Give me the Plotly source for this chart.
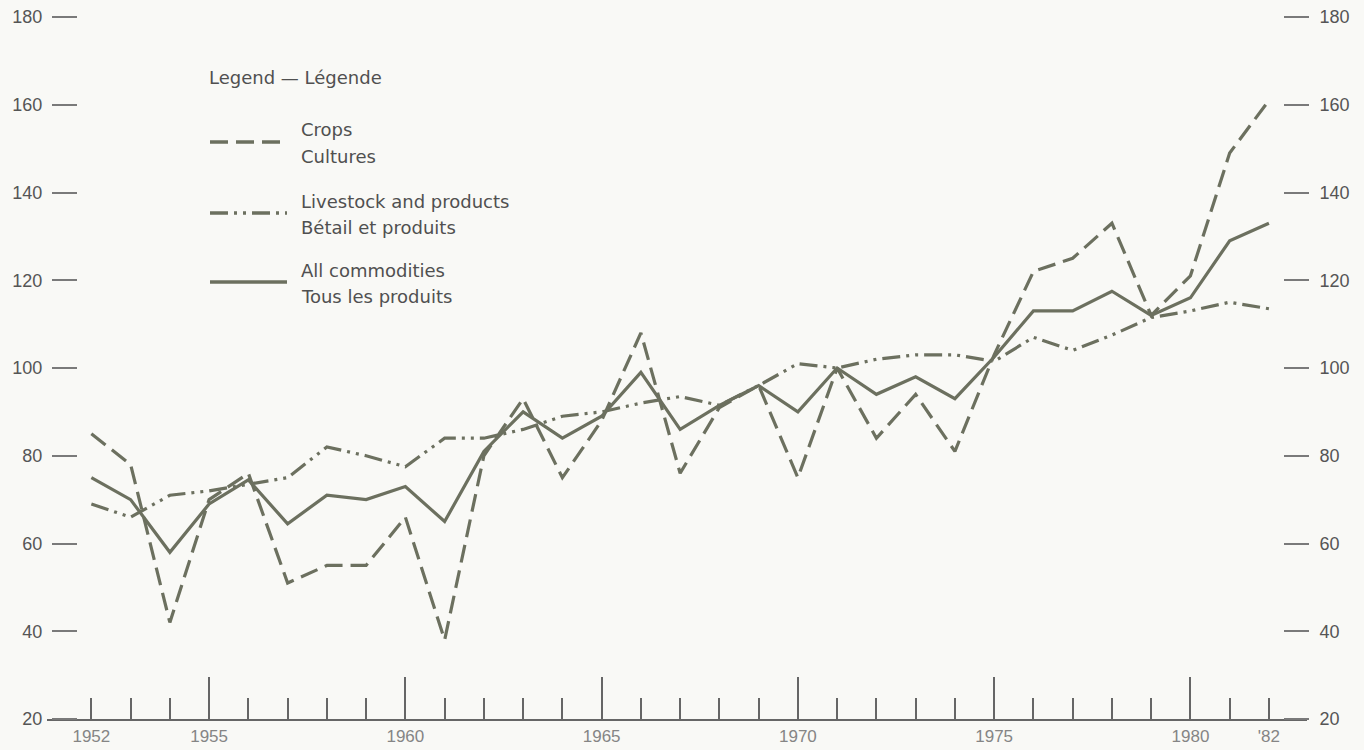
import plotly.graph_objects as go

# ---------------- data ----------------
years = list(range(1952, 1983))
crops = [85, 78, 42, 70, 76, 51, 55, 55, 66, 38, 80, 93, 75, 88, 108, 76, 91, 96, 75, 100,
         84, 94, 81, 103, 122, 125, 133, 112, 121, 149, 161]
livestock = [69, 66, 71, 72, 73.5, 75, 82, 80, 77.5, 84, 84, 86, 89, 90, 92, 93.5, 91.5, 96, 101, 100,
             102, 103, 103, 101.5, 107, 104, 107.5, 111.5, 113, 115, 113.5]
all_commodities = [75, 70, 58, 69, 74.5, 64.5, 71, 70, 73, 65, 81, 90, 84, 89, 99, 86, 91.5, 96, 90, 100,
                   94, 98, 93, 102.5, 113, 113, 117.5, 112, 116, 129, 133]

year_labels = {1952: "1952", 1955: "1955", 1960: "1960", 1965: "1965",
               1970: "1970", 1975: "1975", 1980: "1980", 1982: "'82"}
major_years = [1955, 1960, 1965, 1970, 1975, 1980]
y_ticks = [20, 40, 60, 80, 100, 120, 140, 160, 180]

legend_title = "Legend — Légende"
legend_entries = [("Crops", "Cultures"),
                  ("Livestock and products", "Bétail et produits"),
                  ("All commodities", "Tous les produits")]

# ---------------- style ----------------
W, H = 1364, 750
L, R, T, B = 47, 57, 17, 31
BG = "#f9f9f6"
LINE = "#6c705f"
AX = "#666666"
dash_crops = "18px,8px"
dash_live = "18px,6px,3px,6px,3px,6px"

def px2x(px):
    return (px - L) / (W - L - R)

def py2y(py):
    return (H - B - py) / (H - T - B)

fig = go.Figure()
fig.add_trace(go.Scatter(x=years, y=crops, mode="lines", name="Crops",
                         line=dict(color=LINE, width=3.2, dash=dash_crops)))
fig.add_trace(go.Scatter(x=years, y=livestock, mode="lines", name="Livestock and products",
                         line=dict(color=LINE, width=3.2, dash=dash_live)))
fig.add_trace(go.Scatter(x=years, y=all_commodities, mode="lines", name="All commodities",
                         line=dict(color=LINE, width=3.2)))
# empty helper traces so the overlay axes (long ticks / right scale) are drawn
fig.add_trace(go.Scatter(x=[], y=[], xaxis="x2", yaxis="y", showlegend=False, hoverinfo="skip"))
fig.add_trace(go.Scatter(x=[], y=[], xaxis="x", yaxis="y2", showlegend=False, hoverinfo="skip"))

xr = [1950.87, 1982.97]
yr = [20, 180]

tickfont_y = dict(family="Liberation Sans, Arial, sans-serif", size=18, color="#555555")
tickfont_x = dict(family="Liberation Sans Narrow, Liberation Sans, sans-serif", size=17, color="#858585")

fig.update_layout(
    width=W, height=H,
    margin=dict(l=L, r=R, t=T, b=B, pad=0, autoexpand=False),
    paper_bgcolor=BG, plot_bgcolor=BG,
    showlegend=False,
    xaxis=dict(range=xr, tickmode="array", tickvals=years,
               ticktext=[year_labels.get(y, "") for y in years],
               ticks="inside", ticklen=21, tickwidth=2, tickcolor=AX,
               showline=True, linecolor=AX, linewidth=2,
               showgrid=False, zeroline=False, tickfont=tickfont_x,
               ticklabelstandoff=1, automargin=False, fixedrange=True),
    xaxis2=dict(range=xr, overlaying="x", anchor="y", side="bottom",
                tickmode="array", tickvals=major_years, showticklabels=False,
                ticks="inside", ticklen=42, tickwidth=2, tickcolor=AX,
                showline=False, showgrid=False, zeroline=False,
                automargin=False, fixedrange=True),
    yaxis=dict(range=yr, tickmode="array", tickvals=y_ticks,
               anchor="free", position=px2x(77), side="left",
               ticks="outside", ticklen=25, tickwidth=1.5, tickcolor="#7a7a7a",
               showline=False, showgrid=False, zeroline=False,
               tickfont=tickfont_y, ticklabelstandoff=6,
               automargin=False, fixedrange=True),
    yaxis2=dict(range=yr, overlaying="y", anchor="free", position=px2x(1283), side="right",
                tickmode="array", tickvals=y_ticks,
                ticks="outside", ticklen=25, tickwidth=1.5, tickcolor="#7a7a7a",
                showline=False, showgrid=False, zeroline=False,
                tickfont=tickfont_y, ticklabelstandoff=7,
                automargin=False, fixedrange=True),
)

# ---------------- manual legend ----------------
lfont = dict(family="DejaVu Sans, sans-serif", size=18, color="#505050")
fig.add_annotation(xref="paper", yref="paper", x=px2x(207), y=py2y(78),
                   text=legend_title, showarrow=False, xanchor="left", yanchor="middle",
                   font=lfont)
sample_y = [142, 213, 282]
dashes = [dash_crops, dash_live, "solid"]
for (l1, l2), sy, dsh in zip(legend_entries, sample_y, dashes):
    fig.add_shape(type="line", xref="paper", yref="paper",
                  x0=px2x(210), x1=px2x(287), y0=py2y(sy), y1=py2y(sy),
                  line=dict(color=LINE, width=3.5, dash=dsh))
    fig.add_annotation(xref="paper", yref="paper", x=px2x(299), y=py2y(sy - 12),
                       text=l1, showarrow=False, xanchor="left", yanchor="middle", font=lfont)
    fig.add_annotation(xref="paper", yref="paper", x=px2x(299), y=py2y(sy + 14),
                       text=l2, showarrow=False, xanchor="left", yanchor="middle", font=lfont)

fig.write_html("out.html", config={"displayModeBar": False},
               post_script="document.body.style.margin='0';document.body.style.overflow='hidden';")
